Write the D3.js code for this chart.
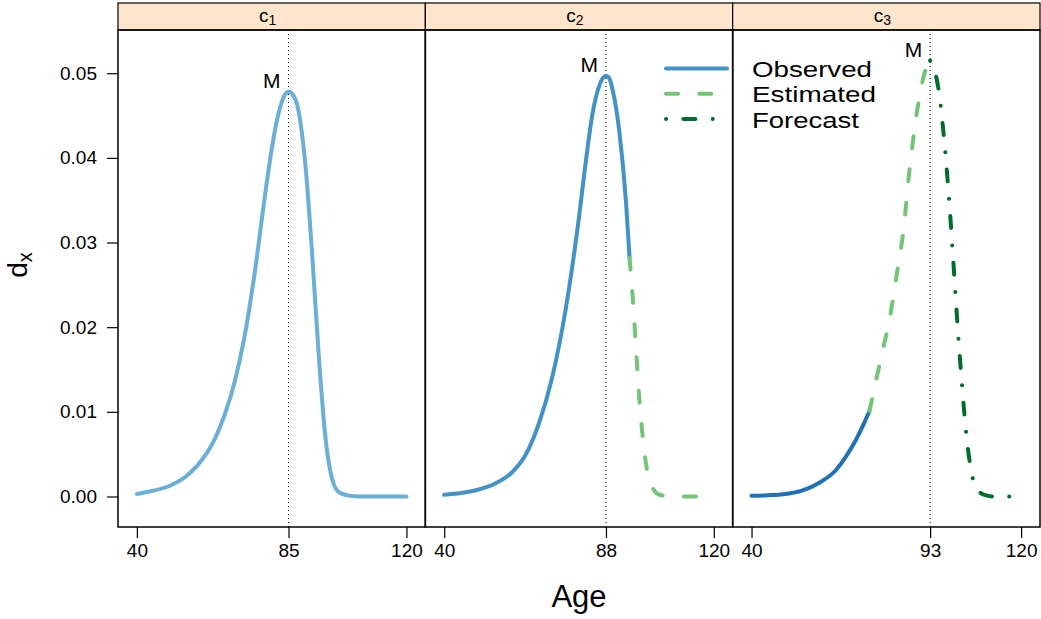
<!DOCTYPE html>
<html>
<head>
<meta charset="utf-8">
<script src="https://cdn.jsdelivr.net/npm/d3@7/dist/d3.min.js"></script>
<style>
  body { margin: 0; background: #fff; }
  svg { font-family: "Liberation Sans", Arial, sans-serif; }
</style>
</head>
<body>
<svg width="1041" height="619"></svg>
<script>
// panels (strip labels) and mode ages
const strips = ['1', '2', '3'];
const modes = [85, 88, 93];
const xTicks = [[40, 85, 120], [40, 88, 120], [40, 93, 120]];
const yTicks = [0, 0.01, 0.02, 0.03, 0.04, 0.05];

// c1 - observed only
const c1ObsAge = [40, 45, 50, 55, 60, 63, 66, 69, 72, 75, 78, 80, 82, 84, 85, 86, 88, 90, 92, 94, 96, 98, 100, 103, 106, 110, 115, 120];
const c1ObsDx = [0.0003, 0.0007, 0.0013, 0.0025, 0.0047, 0.0067, 0.0096, 0.0135, 0.0190, 0.0265, 0.0355, 0.0410, 0.0452, 0.0475, 0.0478, 0.0476, 0.0455, 0.0392, 0.0287, 0.0165, 0.0068, 0.0020, 0.0005, 0.0001, 0, 0, 0, 0];

// c2 - observed + estimated
const c2ObsAge = [40, 45, 50, 55, 60, 64, 68, 72, 76, 80, 82, 84, 86, 88, 89, 90, 92, 94, 95];
const c2ObsDx = [0.0002, 0.0004, 0.0008, 0.0015, 0.0028, 0.0048, 0.0085, 0.0140, 0.0220, 0.0330, 0.0395, 0.0452, 0.0485, 0.0497, 0.0494, 0.0480, 0.0430, 0.0345, 0.0282];
const c2EstAge = [95, 96, 97, 98, 99, 100, 101, 102, 103, 105, 110, 115, 120];
const c2EstDx = [0.0282, 0.0232, 0.0170, 0.0110, 0.0067, 0.0036, 0.0018, 0.0009, 0.0004, 0.0001, 0, 0, 0];

// c3 - observed + estimated + forecast
const c3ObsAge = [40, 45, 50, 55, 60, 65, 68, 71, 73, 75];
const c3ObsDx = [0.0001, 0.00015, 0.0003, 0.0007, 0.0016, 0.0031, 0.0047, 0.0067, 0.0083, 0.0101];
const c3EstAge = [75, 77, 79, 81, 83, 85, 87, 89, 91, 92, 93];
const c3EstDx = [0.0101, 0.0138, 0.0174, 0.0210, 0.0260, 0.0312, 0.0390, 0.0452, 0.0495, 0.0508, 0.0515];
const c3FcAge = [93, 94, 95, 96, 97, 98, 99, 100, 101, 102, 103, 104, 105, 106, 107, 108, 110, 112, 117];
const c3FcDx = [0.0515, 0.0505, 0.0492, 0.0466, 0.0428, 0.0383, 0.0330, 0.0270, 0.0210, 0.0155, 0.0105, 0.0063, 0.0035, 0.0016, 0.0008, 0.0004, 0.0001, 0, 0];

const legendLabels = ['Observed', 'Estimated', 'Forecast'];

const obsColors = ['#6baed6', '#4292c6', '#2171b5'];
const estColor = '#74c476';
const fcColor = '#006d2c';
const estDash = '12 21.3';
const fcDash = '0.1 17.3 12 17.3';

const zip = (a, b) => a.map((v, i) => [v, b[i]]);

const series = [
  [{pts: zip(c1ObsAge, c1ObsDx), color: obsColors[0], dash: null}],
  [{pts: zip(c2ObsAge, c2ObsDx), color: obsColors[1], dash: null},
   {pts: zip(c2EstAge, c2EstDx), color: estColor, dash: estDash}],
  [{pts: zip(c3ObsAge, c3ObsDx), color: obsColors[2], dash: null},
   {pts: zip(c3EstAge, c3EstDx), color: estColor, dash: estDash},
   {pts: zip(c3FcAge, c3FcDx), color: fcColor, dash: fcDash}]
];

const svg = d3.select('svg');

const pLeft = 118, pRight = 1040, pTop = 30, pBottom = 527;
const stripTop = 3;
const pw = (pRight - pLeft) / 3;

// lattice style 7% padding
const allY = series.flat().flatMap(s => s.pts.map(p => p[1]));
const yMax = d3.max(allY), yMin = d3.min(allY);
const yPad = (yMax - yMin) * 0.07;
const y = d3.scaleLinear().domain([yMin - yPad, yMax + yPad]).range([pBottom, pTop]);
const xPad = (120 - 40) * 0.07;

const line = d3.line().curve(d3.curveMonotoneX);

strips.forEach((s, i) => {
  const pl = pLeft + i * pw;
  const x = d3.scaleLinear().domain([40 - xPad, 120 + xPad]).range([pl, pl + pw]);
  line.x(d => x(d[0])).y(d => y(d[1]));

  const g = svg.append('g');

  // strip
  g.append('rect')
    .attr('x', pl).attr('y', stripTop)
    .attr('width', pw).attr('height', pTop - stripTop)
    .attr('fill', '#ffe5cc').attr('stroke', '#000').attr('stroke-width', 1.2);
  const st = g.append('text')
    .attr('x', pl + pw / 2 - 4).attr('y', 22)
    .attr('text-anchor', 'middle').attr('font-size', 19);
  st.append('tspan').text('c');
  st.append('tspan').attr('font-size', 14).attr('dy', 3).text(s);

  // mode line
  g.append('line')
    .attr('x1', x(modes[i])).attr('x2', x(modes[i]))
    .attr('y1', pTop).attr('y2', pBottom)
    .attr('stroke', '#000').attr('stroke-width', 1).attr('stroke-dasharray', '1 3');

  series[i].forEach(sr => {
    g.append('path')
      .attr('d', line(sr.pts))
      .attr('fill', 'none')
      .attr('stroke', sr.color)
      .attr('stroke-width', 4)
      .attr('stroke-linecap', 'round')
      .attr('stroke-dasharray', sr.dash);
  });

  // M label at the peak
  const peak = d3.greatest(series[i].flatMap(sr => sr.pts), p => p[1]);
  g.append('text')
    .attr('x', x(peak[0]) - 8).attr('y', y(peak[1]) - 4)
    .attr('text-anchor', 'end').attr('font-size', 21)
    .text('M');

  // x axis
  const xa = g.append('g')
    .attr('transform', `translate(0,${pBottom})`)
    .call(d3.axisBottom(x).tickValues(xTicks[i]).tickSize(11).tickPadding(6).tickSizeOuter(0));
  xa.select('.domain').remove();
  xa.selectAll('text').attr('font-size', 19).attr('font-family', null).attr('fill', '#000');
  xa.selectAll('line').attr('stroke-width', 1.2);

  // panel frame
  g.append('rect')
    .attr('x', pl).attr('y', pTop)
    .attr('width', pw).attr('height', pBottom - pTop)
    .attr('fill', 'none').attr('stroke', '#000').attr('stroke-width', 1.5);
});

// y axis on first panel
const ya = svg.append('g')
  .attr('transform', `translate(${pLeft},0)`)
  .call(d3.axisLeft(y).tickValues(yTicks).tickFormat(d3.format('.2f')).tickSize(11).tickPadding(10).tickSizeOuter(0));
ya.select('.domain').remove();
ya.selectAll('text').attr('font-size', 19).attr('font-family', null).attr('fill', '#000');
ya.selectAll('line').attr('stroke-width', 1.2);

// legend (text slightly stretched so rows don't collide)
const lg = svg.append('g');
const legendStyles = [
  {color: obsColors[1], dash: null, w: 120},
  {color: estColor, dash: estDash, w: 124},
  {color: fcColor, dash: fcDash, w: 107}
];
legendLabels.forEach((lab, i) => {
  const ly = 68.5 + i * 25.3;
  lg.append('line')
    .attr('x1', 666).attr('x2', 727)
    .attr('y1', ly).attr('y2', ly)
    .attr('stroke', legendStyles[i].color)
    .attr('stroke-width', 4).attr('stroke-linecap', 'round')
    .attr('stroke-dasharray', legendStyles[i].dash);
  lg.append('text')
    .attr('x', 752).attr('y', ly + 8.5)
    .attr('font-size', 22.5)
    .attr('textLength', legendStyles[i].w)
    .attr('lengthAdjust', 'spacingAndGlyphs')
    .text(lab);
});

// axis titles
svg.append('text')
  .attr('x', 579).attr('y', 607)
  .attr('text-anchor', 'middle').attr('font-size', 31)
  .text('Age');

const yt = svg.append('text')
  .attr('transform', 'translate(27,265) rotate(-90)')
  .attr('text-anchor', 'middle').attr('font-size', 28);
yt.append('tspan').text('d');
yt.append('tspan').attr('font-size', 20).attr('dy', 5).text('x');
</script>
</body>
</html>
